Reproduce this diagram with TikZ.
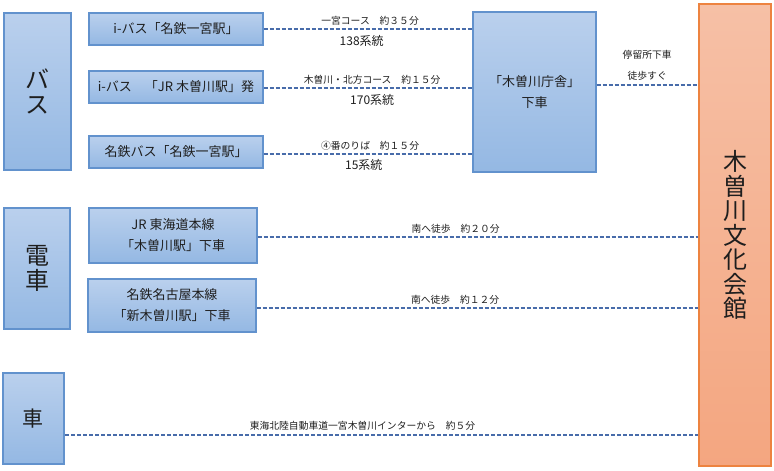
\documentclass[tikz,border=0pt]{standalone}
\usepackage{fontspec}
\setmainfont{Noto Sans CJK JP}
\usetikzlibrary{calc}
\definecolor{bTop}{RGB}{186,208,237}
\definecolor{bBot}{RGB}{148,184,227}
\definecolor{bLine}{RGB}{98,146,205}
\definecolor{oTop}{RGB}{246,192,166}
\definecolor{oBot}{RGB}{244,166,128}
\definecolor{oLine}{RGB}{237,131,64}
\definecolor{dLine}{RGB}{72,108,170}
\definecolor{txt}{RGB}{30,30,30}
\tikzset{
  bbox/.style={draw=bLine, line width=1.2pt, top color=bTop, bottom color=bBot, inner sep=0pt, align=center, text=txt, font=\fontsize{13}{21}\selectfont},
  bigbox/.style={bbox, line width=2.2pt, font=\fontsize{24}{25}\selectfont},
  obox/.style={draw=oLine, line width=2.4pt, top color=oTop, bottom color=oBot, inner sep=0pt, align=center, text=txt, font=\fontsize{24}{24.5}\selectfont},
  dl/.style={draw=dLine, line width=1.2pt, dash pattern=on 4pt off 2pt},
  sm/.style={font=\fontsize{9.8}{11}\selectfont, text=txt, inner sep=1pt},
  md/.style={font=\fontsize{12}{13}\selectfont, text=txt, inner sep=1pt}
}
\begin{document}
\begin{tikzpicture}[x=1pt,y=-1pt]
\useasboundingbox (0,0) rectangle (774,471);
% left category boxes
\node[bigbox, minimum width=67, minimum height=157] (bus) at (37.5,91.5) {バ\\ス};
\node[bigbox, minimum width=66, minimum height=121] (train) at (37,268.5) {電\\車};
\node[bigbox, minimum width=61, minimum height=91, font=\fontsize{21}{22}\selectfont] (car) at (33.5,418.5) {車};
% bus boxes
\node[bbox, minimum width=174, minimum height=32] (b1) at (176,29) {i-バス「名鉄一宮駅」};
\node[bbox, minimum width=174, minimum height=32] (b2) at (176,87) {i-バス　「JR 木曽川駅」発};
\node[bbox, minimum width=174, minimum height=32] (b3) at (176,152) {名鉄バス「名鉄一宮駅」};
% train boxes
\node[bbox, minimum width=168, minimum height=55] (jr) at (173,235.5) {JR 東海道本線\\「木曽川駅」下車};
\node[bbox, minimum width=168, minimum height=53] (mt) at (172,305.5) {名鉄名古屋本線\\「新木曽川駅」下車};
% chosha
\node[bbox, minimum width=123, minimum height=160] (ch) at (534.5,92) {「木曽川庁舎」\\下車};
% destination
\node[obox, minimum width=72, minimum height=462] (bk) at (735,235) {木\\曽\\川\\文\\化\\会\\館};
% bus connectors
\draw[dl] (b1.east) -- node[sm, above, pos=0.51, yshift=2pt] {一宮コース　約３５分} node[md, below, pos=0.47, yshift=-5pt] {138系統} (b1.east -| ch.west);
\draw[dl] ([yshift=-1pt]b2.east) -- node[sm, above, pos=0.52, yshift=2pt] {木曽川・北方コース　約１５分} node[md, below, pos=0.52, yshift=-5pt] {170系統} ([yshift=-1pt]b2.east -| ch.west);
\draw[dl] ([yshift=-2pt]b3.east) -- node[sm, above, pos=0.51, yshift=2pt] {④番のりば　約１５分} node[md, below, pos=0.48, yshift=-4pt] {15系統} ([yshift=-2pt]b3.east -| ch.west);
% chosha to bunka
\draw[dl] ([yshift=7pt]ch.east) -- node[sm, above, yshift=3pt] (lw) {徒歩すぐ} ([yshift=7pt]ch.east -| bk.west);
\node[sm, above=9pt] at (lw.north) {停留所下車};
% train connectors
\draw[dl] ([yshift=-1.5pt]jr.east) -- node[sm, above, pos=0.45, yshift=2pt] {南へ徒歩　約２０分} ([yshift=-1.5pt]jr.east -| bk.west);
\draw[dl] ([yshift=-2.5pt]mt.east) -- node[sm, above, pos=0.45, yshift=2pt] {南へ徒歩　約１２分} ([yshift=-2.5pt]mt.east -| bk.west);
% car connector
\draw[dl] ([yshift=-16.5pt]car.east) -- node[sm, above, pos=0.47, yshift=3pt] {東海北陸自動車道一宮木曽川インターから　約５分} ([yshift=-16.5pt]car.east -| bk.west);
\end{tikzpicture}
\end{document}
